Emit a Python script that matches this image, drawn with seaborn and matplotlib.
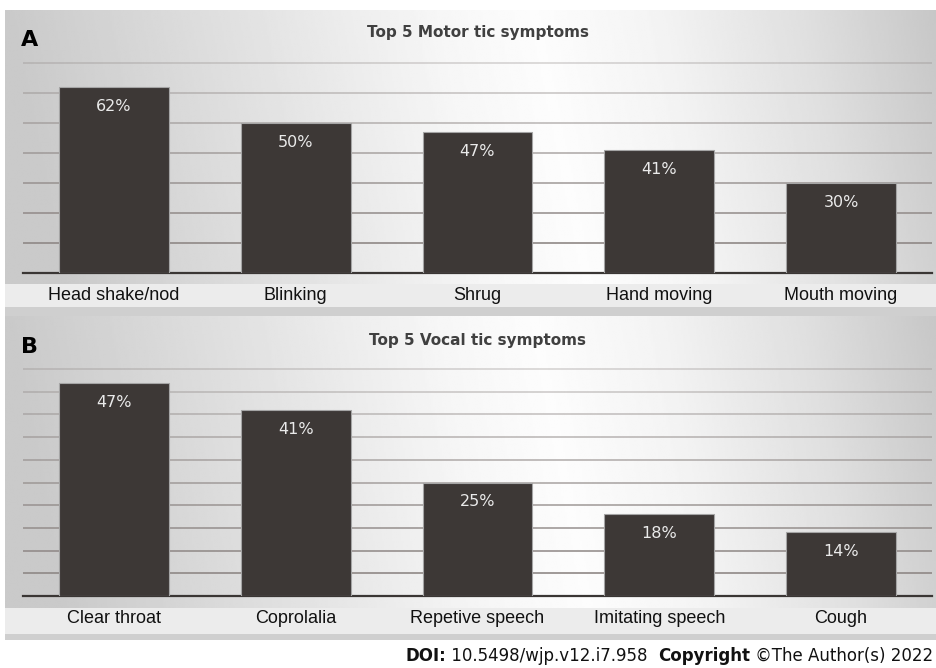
import numpy as np
import matplotlib
matplotlib.use("Agg")
import matplotlib.pyplot as plt
import seaborn as sns
from matplotlib.patches import Rectangle

motor_labels = ["Head shake/nod", "Blinking", "Shrug", "Hand moving", "Mouth moving"]
motor_pct = [62, 50, 47, 41, 30]

vocal_labels = ["Clear throat", "Coprolalia", "Repetive speech", "Imitating speech", "Cough"]
vocal_pct = [47, 41, 25, 18, 14]

W, H = 937, 668
BAR = "#3d3836"

sns.set_style("white")
plt.rcParams["font.family"] = ["Liberation Sans", "DejaVu Sans"]

fig = plt.figure(figsize=(W / 100, H / 100), dpi=100)
fig.patch.set_facecolor("white")


def fbox(x0, y0, x1, y1):
    # pixel box (top-left origin) -> figure fraction rect
    return [x0 / W, 1 - y1 / H, (x1 - x0) / W, (y1 - y0) / H]


def frect(x0, y0, x1, y1, color, z=1):
    b = fbox(x0, y0, x1, y1)
    fig.patches.append(Rectangle((b[0], b[1]), b[2], b[3], transform=fig.transFigure,
                                 facecolor=color, edgecolor="none", zorder=z))


# grey -> white -> grey background of each panel
gx = np.array([0, 200, 430, 530, 650, 800, 932])
gv = np.array([0.79, 0.87, 0.965, 0.99, 0.955, 0.875, 0.78])


def gradient(box):
    bg = fig.add_axes(fbox(*box), zorder=0)
    x = np.linspace(0, 932, 500)
    yy = np.linspace(0, 1, 80)[:, None]
    g = np.interp(x[None, :] - 60 * yy, gx, gv)
    bg.imshow(g, cmap="gray", vmin=0, vmax=1, aspect="auto", interpolation="bilinear")
    bg.axis("off")


panels = [
    dict(labels=motor_labels, vals=motor_pct, box=(5, 10, 937, 316), base=272.7, ppu=2.99,
         top=72, step=10, band=(284, 307), strip=(307, 316), title="Top 5 Motor tic symptoms",
         title_y=33, letter="A", letter_y=40),
    dict(labels=vocal_labels, vals=vocal_pct, box=(5, 316, 937, 640), base=596, ppu=4.54,
         top=51, step=5, band=(608, 634), strip=(634, 640), title="Top 5 Vocal tic symptoms",
         title_y=340, letter="B", letter_y=347),
]

for p in panels:
    gradient(p["box"])
    frect(5, p["band"][0], 937, p["band"][1], "#ececec", z=1)
    frect(5, p["strip"][0], 937, p["strip"][1], "#cfcfcf", z=1)

    ax = fig.add_axes(fbox(23, p["base"] - p["ppu"] * p["top"], 932, p["base"]), zorder=2)
    ax.set_facecolor("none")
    sns.barplot(x=p["labels"], y=p["vals"], color=BAR, saturation=1, width=0.605,
                edgecolor="#a5a5a5", linewidth=0.8, ax=ax, zorder=3)
    ax.set_xlim(-0.5, 4.5)
    ax.set_ylim(0, p["top"])
    ax.set_yticks(np.arange(p["step"], p["top"], p["step"]))
    ax.tick_params(axis="y", length=0, labelleft=False)
    ax.tick_params(axis="x", length=0, pad=10, labelsize=13, labelcolor="#111111")
    ax.set_xlabel("")
    ax.set_ylabel("")
    ax.grid(axis="y", color="#8f8886", lw=1.2)
    ax.set_axisbelow(True)
    glines = ax.get_ygridlines()
    for k, gl in enumerate(glines):
        gl.set_alpha(1 - 0.65 * k / max(len(glines) - 1, 1))
    for s in ["top", "right", "left"]:
        ax.spines[s].set_visible(False)
    ax.spines["bottom"].set_color("#3a3634")
    ax.spines["bottom"].set_linewidth(1.6)

    for i, v in enumerate(p["vals"]):
        ax.annotate(f"{v}%", (i, v), xytext=(0, -14), textcoords="offset points",
                    ha="center", va="center", color="#eaeaea", fontsize=11.5,
                    family=["DejaVu Sans"], zorder=4)

    fig.text(478 / W, 1 - p["title_y"] / H, p["title"], ha="center", va="center",
             fontsize=11, fontweight="bold", color="#404040", family=["DejaVu Sans"])
    fig.text(21 / W, 1 - p["letter_y"] / H, p["letter"], ha="left", va="center",
             fontsize=16, fontweight="bold", color="#000000", family=["DejaVu Sans"])

# footer, built right to left so bold and regular parts sit together
fig.canvas.draw()
r = fig.canvas.get_renderer()
pieces = [("DOI:", "bold"), (" 10.5498/wjp.v12.i7.958  ", "normal"),
          ("Copyright", "bold"), (" \u00a9The Author(s) 2022", "normal")]
xr = 933
for txt, wt in reversed(pieces):
    t = fig.text(xr / W, 1 - 661 / H, txt, ha="right", va="baseline", fontsize=12,
                 fontweight=wt, color="#111111", family=["DejaVu Sans"])
    bb = t.get_window_extent(renderer=r)
    xr = xr - bb.width

fig.savefig("out.png", dpi=100, facecolor="white")
